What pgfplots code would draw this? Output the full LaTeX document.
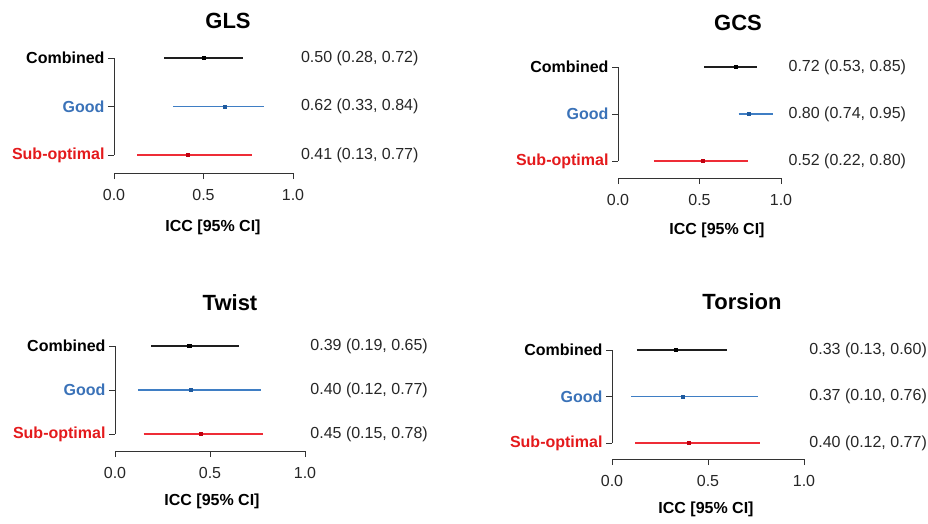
\documentclass[border=0pt]{standalone}
\usepackage{pgfplots}
\pgfplotsset{compat=1.18}
\usepackage{fontspec}
\setmainfont{Liberation Sans}
\definecolor{cblue}{HTML}{3A72B8}
\definecolor{cred}{HTML}{E41A1C}
\definecolor{lblk}{HTML}{1E1E1E}
\definecolor{lblue}{HTML}{3F7EC4}
\definecolor{lred}{HTML}{EE2C36}
\definecolor{mblue}{HTML}{1F5A9E}
\definecolor{mred}{HTML}{C00010}
\definecolor{axgray}{HTML}{333333}
\definecolor{txt}{HTML}{262626}

\newcommand{\lab}{\fontsize{16}{19}\selectfont}
\newcommand{\row}[6]{%
  \addplot[#1, line width=1.45pt] coordinates {(#5,#3) (#6,#3)};
  \addplot[only marks, mark=square*, mark size=1.6pt, #2] coordinates {(#4,#3)};
}

\pgfplotsset{forest/.style={
  scale only axis, clip=false,
  xmin=0, xmax=1, ymax=3.2,
  axis x line=bottom, axis y line=left,
  axis line style={-, axgray, line width=0.9pt},
  y axis line style={draw=none},
  every tick/.style={axgray, line width=0.9pt},
  tick align=outside, major tick length=6pt,
  xtick={0,0.5,1}, xticklabels={0.0,0.5,1.0},
  ytick={1,2,3},
  yticklabels={\textcolor{cred}{\bfseries Sub-optimal},\textcolor{cblue}{\bfseries Good},\textcolor{black}{\bfseries Combined}},
  tick label style={font=\lab, text=txt},
  xticklabel style={yshift=-7pt},
  yticklabel style={text=black},
}}

\begin{document}
\begin{tikzpicture}[font=\lab]
\path[use as bounding box] (0,0) rectangle (928pt,523pt);

% GLS
\begin{axis}[forest, at={(114pt,350pt)}, anchor=south west, width=179pt, height=124.6pt, ymin=0.63]
\draw[axgray, line width=0.9pt] (axis cs:0,1) -- (axis cs:0,3);
\row{lblk}{black}{3}{0.50}{0.28}{0.72}
\row{lblue}{mblue}{2}{0.62}{0.33}{0.84}
\row{lred}{mred}{1}{0.41}{0.13}{0.77}
\node[anchor=west, text=txt] at (axis cs:1.025,3) {0.50 (0.28, 0.72)};
\node[anchor=west, text=txt] at (axis cs:1.025,2) {0.62 (0.33, 0.84)};
\node[anchor=west, text=txt] at (axis cs:1.025,1) {0.41 (0.13, 0.77)};
\end{axis}

% GCS
\begin{axis}[forest, at={(618pt,345pt)}, anchor=south west, width=163pt, height=120.4pt, ymin=0.638]
\draw[axgray, line width=0.9pt] (axis cs:0,1) -- (axis cs:0,3);
\row{lblk}{black}{3}{0.72}{0.53}{0.85}
\row{lblue}{mblue}{2}{0.80}{0.74}{0.95}
\row{lred}{mred}{1}{0.52}{0.22}{0.80}
\node[anchor=west, text=txt] at (axis cs:1.025,3) {0.72 (0.53, 0.85)};
\node[anchor=west, text=txt] at (axis cs:1.025,2) {0.80 (0.74, 0.95)};
\node[anchor=west, text=txt] at (axis cs:1.025,1) {0.52 (0.22, 0.80)};
\end{axis}

% Twist
\begin{axis}[forest, at={(115pt,72pt)}, anchor=south west, width=190pt, height=113.8pt, ymin=0.614]
\draw[axgray, line width=0.9pt] (axis cs:0,1) -- (axis cs:0,3);
\row{lblk}{black}{3}{0.39}{0.19}{0.65}
\row{lblue}{mblue}{2}{0.40}{0.12}{0.77}
\row{lred}{mred}{1}{0.45}{0.15}{0.78}
\node[anchor=west, text=txt] at (axis cs:1.01,3) {0.39 (0.19, 0.65)};
\node[anchor=west, text=txt] at (axis cs:1.01,2) {0.40 (0.12, 0.77)};
\node[anchor=west, text=txt] at (axis cs:1.01,1) {0.45 (0.15, 0.78)};
\end{axis}

% Torsion
\begin{axis}[forest, at={(612pt,64pt)}, anchor=south west, width=192pt, height=118.3pt, ymin=0.656]
\draw[axgray, line width=0.9pt] (axis cs:0,1) -- (axis cs:0,3);
\row{lblk}{black}{3}{0.33}{0.13}{0.60}
\row{lblue}{mblue}{2}{0.37}{0.10}{0.76}
\row{lred}{mred}{1}{0.40}{0.12}{0.77}
\node[anchor=west, text=txt] at (axis cs:1.01,3) {0.33 (0.13, 0.60)};
\node[anchor=west, text=txt] at (axis cs:1.01,2) {0.37 (0.10, 0.76)};
\node[anchor=west, text=txt] at (axis cs:1.01,1) {0.40 (0.12, 0.77)};
\end{axis}

% titles
\node[font=\bfseries\fontsize{22}{26}\selectfont] at (228pt,502pt) {GLS};
\node[font=\bfseries\fontsize{22}{26}\selectfont] at (738pt,500pt) {GCS};
\node[font=\bfseries\fontsize{22}{26}\selectfont] at (230pt,220pt) {Twist};
\node[font=\bfseries\fontsize{22}{26}\selectfont] at (742pt,221pt) {Torsion};
% x labels
\node[font=\bfseries\lab] at (213pt,296pt) {ICC [95\% CI]};
\node[font=\bfseries\lab] at (717pt,293pt) {ICC [95\% CI]};
\node[font=\bfseries\lab] at (212pt,22pt) {ICC [95\% CI]};
\node[font=\bfseries\lab] at (706pt,14pt) {ICC [95\% CI]};
\end{tikzpicture}
\end{document}
